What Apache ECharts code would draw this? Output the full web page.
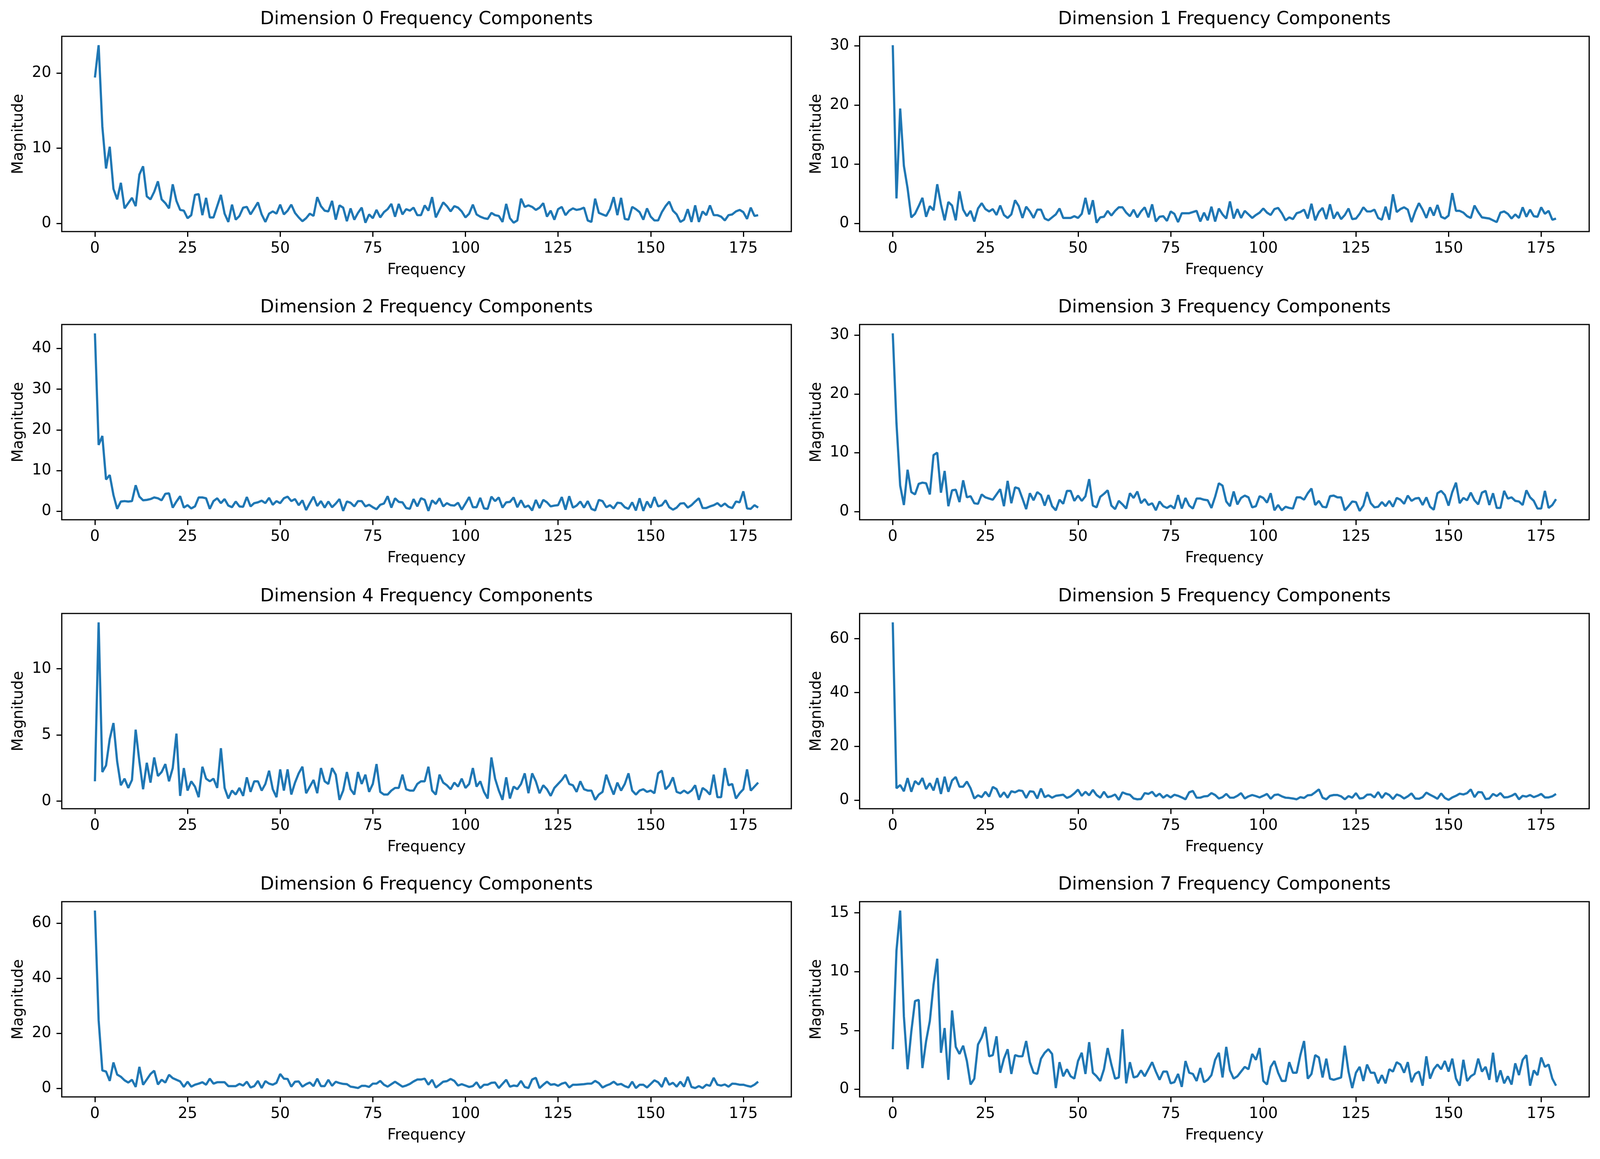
<!DOCTYPE html>
<html>
<head>
<meta charset="utf-8">
<script src="https://cdn.jsdelivr.net/npm/echarts@6/dist/echarts.min.js"></script>
<style>
html,body{margin:0;padding:0;background:#fff;overflow:hidden;}
#chart{position:absolute;left:0;top:0;}
</style>
</head>
<body>
<div id="chart"></div>
<script>
// ---------------- data ----------------
var frequencyTicks = [0, 25, 50, 75, 100, 125, 150, 175];
var titles = [
  "Dimension 0 Frequency Components", "Dimension 1 Frequency Components",
  "Dimension 2 Frequency Components", "Dimension 3 Frequency Components",
  "Dimension 4 Frequency Components", "Dimension 5 Frequency Components",
  "Dimension 6 Frequency Components", "Dimension 7 Frequency Components"
];
var yTicks0 = [0, 10, 20];
var yTicks1 = [0, 10, 20, 30];
var yTicks2 = [0, 10, 20, 30, 40];
var yTicks3 = [0, 10, 20, 30];
var yTicks4 = [0, 5, 10];
var yTicks5 = [0, 20, 40, 60];
var yTicks6 = [0, 20, 40, 60];
var yTicks7 = [0, 5, 10, 15];

var dim0 = [
19.4,23.7,12.9,7.3,10.2,4.6,3.2,5.4,2.0,2.7,3.4,2.3,6.5,7.6,3.6,3.2,4.2,5.6,3.2,2.7,
2.0,5.2,3.0,1.8,1.7,0.7,1.1,3.8,3.9,1.1,3.4,0.8,0.8,2.3,3.8,1.3,0.2,2.5,0.5,1.0,
2.1,2.2,1.2,2.0,2.8,1.2,0.2,1.3,1.6,1.3,2.5,1.2,1.7,2.5,1.4,0.8,0.3,0.7,1.3,1.0,
3.5,2.3,1.7,1.6,3.0,0.5,2.4,2.1,0.3,2.0,0.5,1.4,2.1,0.1,1.2,0.7,1.8,0.8,1.5,1.9,
2.6,0.9,2.6,1.2,1.9,1.7,2.1,1.1,1.1,2.4,1.7,3.5,0.8,1.8,2.8,2.3,1.6,2.3,2.1,1.6,
0.8,1.3,2.5,1.2,0.9,0.7,0.6,1.4,1.1,1.0,0.2,2.6,0.7,0.1,0.4,3.3,2.2,2.4,2.2,1.8,
2.1,2.7,0.9,1.7,0.5,1.9,2.2,1.1,1.7,2.0,1.8,1.9,2.1,0.4,0.2,3.3,1.4,1.2,1.0,1.9,
3.5,1.1,3.4,0.6,0.5,2.2,1.9,1.5,0.5,2.0,0.9,0.4,0.4,1.5,2.3,2.9,1.7,1.2,0.2,0.5,
1.9,0.2,2.4,0.2,1.6,1.1,2.4,1.1,1.1,0.9,0.4,1.1,1.2,1.6,1.8,1.5,0.6,2.1,1.0,1.1];
var dim1 = [
30.1,4.2,19.4,9.7,5.9,1.0,1.6,2.9,4.3,1.1,2.9,2.2,6.6,3.2,0.5,3.6,3.0,0.5,5.4,2.3,
1.2,2.1,0.3,2.5,3.4,2.4,2.0,2.4,1.4,3.0,1.4,0.9,1.5,3.9,2.9,0.9,2.8,2.0,0.9,2.3,
2.3,0.8,0.5,1.0,1.5,2.5,0.9,0.9,0.9,1.2,0.9,1.6,4.3,1.5,3.9,0.1,1.0,1.1,2.1,1.3,
2.1,2.7,2.7,1.8,1.2,2.3,1.0,2.0,2.7,1.0,3.2,0.3,1.1,1.2,0.4,2.0,1.6,0.2,1.7,1.7,
1.7,1.9,2.1,0.3,1.8,0.5,2.8,0.3,2.5,1.5,0.8,3.7,0.8,2.4,0.9,2.1,1.5,0.9,1.4,1.8,
2.5,1.8,1.4,2.4,2.6,1.7,0.5,1.0,0.7,1.7,1.9,2.3,0.8,3.3,0.5,1.9,2.6,0.7,3.2,0.8,
1.9,0.7,1.4,2.5,0.7,0.8,1.6,2.7,2.0,2.0,2.3,0.9,0.6,2.8,0.6,4.9,1.9,2.4,2.7,2.3,
0.2,2.0,3.4,2.3,0.9,2.7,1.3,3.1,1.1,0.8,1.3,5.1,2.1,2.1,1.8,1.2,0.9,3.0,1.9,1.0,
0.9,0.8,0.5,0.2,1.8,2.0,1.6,0.8,1.5,0.9,2.7,1.1,2.3,1.2,1.1,2.7,1.6,2.1,0.6,0.8];
var dim2 = [
43.7,16.3,18.5,7.8,8.9,4.0,0.6,2.4,2.5,2.4,2.5,6.4,3.6,2.7,2.8,3.0,3.4,3.2,2.7,4.3,
4.4,0.9,2.4,3.7,0.9,1.5,0.7,1.2,3.4,3.4,3.2,0.6,2.5,3.2,2.0,3.0,1.4,1.0,2.4,1.2,
1.1,3.5,1.2,2.0,2.2,2.6,2.0,3.3,1.6,2.5,2.0,3.2,3.6,2.5,3.0,1.5,2.7,0.3,2.0,3.6,
1.3,2.5,0.9,2.4,1.0,1.9,3.0,0.1,2.4,2.1,1.2,2.5,2.5,1.2,1.6,1.0,0.5,1.6,1.9,3.7,
0.9,3.2,2.3,2.2,0.8,0.6,3.0,1.2,3.2,2.8,0.1,2.7,1.8,3.2,1.2,2.0,1.5,1.4,2.1,0.4,
1.9,3.5,1.0,1.0,3.3,0.7,0.6,3.6,2.5,3.4,0.9,2.2,2.3,3.4,1.0,2.7,1.0,1.4,0.2,2.8,
0.8,2.8,2.2,1.2,1.4,1.5,3.5,0.4,3.7,0.9,1.4,2.4,0.9,2.5,0.6,0.2,2.8,2.5,1.0,1.5,
0.7,2.1,2.0,1.0,0.6,2.2,0.2,3.2,0.1,2.4,0.9,3.5,1.2,1.5,2.7,1.0,0.4,0.9,1.9,2.0,
0.9,1.5,2.4,3.2,0.8,0.8,1.2,1.5,2.0,1.2,1.9,1.1,0.8,2.4,2.2,4.9,0.7,0.6,1.5,0.9];
var dim3 = [
30.3,15.0,4.4,1.1,7.1,3.3,2.9,4.7,4.9,4.8,2.9,9.6,10.0,3.2,6.9,0.9,3.6,3.7,1.6,5.3,
2.4,2.6,1.4,1.3,2.9,2.4,2.2,2.0,2.9,3.8,0.9,5.2,1.4,4.1,3.9,2.2,0.4,3.1,1.9,3.3,
2.8,1.0,2.8,0.9,0.2,2.0,1.3,3.5,3.5,1.8,2.7,1.8,2.6,5.5,1.0,0.7,2.5,3.0,3.6,1.0,
0.4,1.8,1.2,0.5,3.1,2.3,3.4,1.4,2.1,1.1,1.4,0.2,1.7,0.9,0.6,1.0,0.5,2.8,0.5,2.3,
1.0,0.5,2.2,2.2,2.0,1.9,0.6,2.5,4.8,4.4,1.7,0.9,3.4,1.2,2.3,2.7,2.4,0.7,0.9,2.6,
2.3,1.5,3.1,0.2,1.1,0.2,0.8,0.6,0.5,2.4,2.4,2.0,3.1,3.9,1.1,1.8,0.8,0.7,2.6,2.7,
2.4,2.4,0.2,0.9,1.7,1.6,0.1,1.0,3.3,1.4,0.7,0.8,1.6,0.9,1.8,0.8,2.3,2.0,1.3,2.7,
1.8,2.2,2.3,1.1,2.4,0.8,0.3,3.1,3.5,2.8,1.0,3.3,4.9,1.4,2.3,1.9,3.2,1.9,1.2,3.2,
3.5,1.1,3.1,0.6,0.6,3.5,2.2,2.4,1.8,1.7,1.1,3.6,2.4,1.8,0.5,0.5,3.5,0.6,1.1,2.1];
var dim4 = [
1.5,13.5,2.2,2.7,4.7,5.9,3.0,1.2,1.7,1.0,1.6,5.4,3.0,0.9,2.9,1.4,3.3,1.9,2.2,2.8,
1.5,2.5,5.1,0.4,2.5,0.8,1.5,1.1,0.3,2.6,1.7,1.5,1.7,1.0,4.0,1.0,0.2,0.8,0.5,1.0,
0.4,1.8,0.7,1.5,1.5,0.8,1.3,2.3,0.9,0.3,2.4,0.8,2.4,0.5,1.4,2.1,2.6,0.6,1.1,1.6,
0.6,2.5,1.5,1.3,2.5,2.0,0.1,0.8,2.2,0.9,0.5,2.2,1.3,2.0,0.7,1.3,2.8,0.7,0.5,0.5,
0.8,1.0,1.0,2.0,0.9,0.8,0.8,1.3,1.5,1.5,2.6,0.8,0.5,2.0,1.4,1.2,0.9,1.4,1.1,1.7,
1.0,1.3,2.5,1.1,1.5,0.7,0.2,3.3,1.7,0.8,0.1,1.8,0.2,1.1,0.9,1.3,2.1,0.6,2.1,1.5,
0.6,1.2,0.9,0.4,1.0,1.3,1.6,2.0,1.3,1.2,0.7,1.5,0.9,0.8,0.8,0.1,0.5,0.7,2.0,1.2,
0.5,1.4,0.8,1.3,2.1,0.8,0.5,0.8,0.9,0.7,0.8,0.6,2.1,2.3,0.9,1.2,1.8,0.7,0.6,0.8,
0.6,0.8,1.2,0.1,1.0,0.8,0.5,2.0,0.3,0.3,2.5,1.2,1.3,0.2,0.6,0.9,2.4,0.8,1.1,1.4];
var dim5 = [
66.1,4.4,5.6,3.3,8.2,3.1,7.1,5.8,8.2,4.1,6.3,3.6,8.2,2.3,8.7,3.1,7.3,8.6,5.0,5.0,
6.9,4.4,0.6,1.8,1.1,3.1,1.3,4.9,4.1,1.1,2.9,0.9,3.3,2.9,3.6,3.4,0.8,3.3,3.1,0.6,
4.3,1.1,1.8,0.9,1.6,1.8,2.0,0.8,1.4,2.5,3.9,1.6,3.1,1.8,3.8,1.9,0.9,3.1,1.1,1.4,
2.1,0.1,2.9,2.3,2.0,0.6,0.3,0.4,2.6,2.3,3.1,1.4,2.4,0.9,1.9,1.0,2.0,1.6,1.0,0.3,
2.9,3.4,0.9,0.9,1.4,1.5,2.6,1.9,0.6,1.1,2.3,0.9,0.9,1.6,2.6,0.6,1.4,1.9,1.5,1.0,
1.6,2.3,0.5,1.9,2.1,1.4,0.9,0.8,0.6,0.3,1.1,0.8,1.8,1.9,2.9,4.0,0.9,0.3,1.6,1.9,
1.9,1.4,0.3,1.5,0.9,2.6,0.6,0.8,2.0,2.1,1.0,3.0,0.8,2.6,1.9,0.4,2.1,1.6,0.6,1.4,
2.5,0.6,0.5,1.1,2.8,2.0,1.3,0.5,2.5,0.8,0.1,1.0,1.6,2.4,2.1,2.6,4.0,1.1,3.0,2.9,
0.4,0.6,2.3,1.5,2.6,1.0,1.1,1.6,2.4,0.3,1.6,1.3,1.9,1.1,1.6,2.3,1.0,1.0,1.4,2.3];
var dim6 = [
64.6,24.8,6.5,6.1,2.7,9.4,5.0,4.2,2.9,2.1,3.1,0.5,7.8,1.3,3.2,5.2,6.4,1.4,3.1,2.1,
4.9,3.7,3.1,2.5,0.5,2.4,0.6,1.3,1.7,2.2,1.3,3.5,1.7,2.2,2.2,2.2,0.8,0.8,0.8,1.6,
1.0,2.4,0.3,0.8,2.7,0.1,2.6,1.7,1.3,2.0,5.2,3.5,3.4,0.6,2.4,2.5,0.6,1.5,2.1,0.8,
3.5,0.8,0.8,3.1,0.9,2.4,1.9,1.6,1.5,0.6,0.4,0.1,0.9,0.9,0.5,1.7,1.7,2.7,1.3,0.6,
1.5,2.4,1.5,0.6,1.0,1.6,2.5,3.2,3.2,3.5,1.3,3.1,0.3,1.3,2.4,2.6,3.4,2.7,1.0,1.5,
1.0,0.5,0.8,2.2,0.1,1.3,1.3,2.0,2.1,0.1,1.6,3.1,0.6,1.0,0.8,2.7,0.5,0.1,3.2,3.8,
0.1,1.3,2.4,1.3,1.5,0.9,1.7,2.1,0.3,1.3,1.3,1.4,1.5,1.7,1.7,2.7,1.9,0.3,1.0,1.5,
2.4,1.3,1.6,0.8,0.3,2.4,0.1,1.3,1.3,0.3,1.6,2.9,2.2,0.5,3.9,1.3,2.0,0.6,2.4,0.6,
4.2,0.5,0.1,0.8,0.1,1.3,0.9,3.8,1.3,1.0,1.4,0.6,1.7,1.6,1.3,1.3,0.9,0.6,1.3,2.4];
var dim7 = [
3.4,11.8,15.2,6.2,1.7,4.9,7.5,7.6,1.8,4.1,5.8,8.9,11.1,3.1,5.2,0.8,6.7,3.6,3.0,3.7,
2.4,0.4,0.9,3.8,4.4,5.3,2.8,2.9,4.5,1.4,2.6,3.4,1.3,2.9,2.8,2.8,4.1,2.3,1.4,1.3,
2.6,3.1,3.4,3.0,0.1,2.3,1.1,1.7,1.1,0.9,2.4,3.1,1.3,4.0,1.4,1.1,0.7,1.7,3.5,2.1,
0.9,1.0,5.1,0.5,2.3,1.0,1.1,1.6,1.1,1.7,2.3,1.5,0.8,1.5,1.5,0.5,0.6,1.3,0.2,2.4,
1.4,1.3,0.7,1.8,0.6,0.8,1.2,2.5,3.1,1.0,3.6,1.6,0.9,1.1,1.5,1.9,1.7,3.0,2.5,3.5,
0.7,0.4,1.9,2.4,1.4,0.7,0.7,2.3,1.4,1.4,2.9,4.1,0.9,1.3,2.9,2.7,1.0,2.6,0.9,0.8,
0.9,1.0,3.7,1.5,0.1,1.4,1.9,0.7,2.1,1.4,1.4,0.5,1.2,0.5,1.7,1.5,2.3,2.1,1.4,2.3,
0.6,1.3,1.5,0.3,2.8,0.9,1.7,2.1,1.7,2.4,1.5,2.6,0.9,0.3,2.5,0.7,1.1,1.3,2.6,1.5,
1.9,0.8,3.1,0.6,1.6,0.5,1.1,0.4,2.2,1.2,2.5,2.9,0.3,1.6,1.2,2.7,1.9,2.1,0.9,0.3];

var dims = [dim0, dim1, dim2, dim3, dim4, dim5, dim6, dim7];
var yTicks = [yTicks0, yTicks1, yTicks2, yTicks3, yTicks4, yTicks5, yTicks6, yTicks7];

// ---------------- layout (reference is 4430 x 2968) ----------------
var REF_W = 4430, REF_H = 2968;
var VW = Math.round(window.innerWidth) || REF_W, VH = Math.round(window.innerHeight) || REF_H;
if (VW < 500 || VH < 400) { VW = REF_W; VH = REF_H; }
var sx = VW / REF_W, sy = VH / REF_H, s = Math.round(Math.min(sx, sy) * 1000) / 1000;
var colLeft = [171, 2380];
var gridW = 2020;
var rowTop = [93, 831, 1571, 2309];
var gridH = 500;
var FONT = "DejaVu Sans";
var LINE_BLUE = "#1f77b4";
function r1(v) { return Math.round(v * 10) / 10; }

function build(f) {
  var grids = [], xAxes = [], yAxes = [], series = [], graphics = [];
  for (var i = 0; i < 8; i++) {
    var col = i % 2, row = Math.floor(i / 2);
    var left = r1(colLeft[col] * sx), top = r1(rowTop[row] * sy);
    grids.push({
      left: left, top: top, width: r1(gridW * sx), height: r1(gridH * sy),
      show: true, borderColor: "#000", borderWidth: r1(3.3 * s)
    });
    var d = dims[i];
    var xr = d.length - 1;
    var ymin = Math.min.apply(null, d), ymax = Math.max.apply(null, d), yr = ymax - ymin;
    var xa = {
      gridIndex: i, type: "value", min: -0.05 * xr, max: xr + 0.05 * xr,
      axisLine: { show: false },
      splitLine: { show: false },
      axisTick: { show: true, length: r1(14.6 * s), lineStyle: { color: "#000", width: r1(3.3 * s) } },
      axisLabel: { show: true, margin: r1(26 * s), fontSize: r1(42 * s), color: "#000", fontFamily: FONT },
      name: "Frequency", nameLocation: "middle", nameGap: r1(86 * s),
      nameTextStyle: { fontSize: r1(42 * s), color: "#000", fontFamily: FONT }
    };
    var ya = {
      gridIndex: i, type: "value", min: ymin - 0.05 * yr, max: ymax + 0.05 * yr,
      axisLine: { show: false },
      splitLine: { show: false },
      axisTick: { show: true, length: r1(14.6 * s), lineStyle: { color: "#000", width: r1(3.3 * s) } },
      axisLabel: { show: true, margin: r1(29 * s), fontSize: r1(42 * s), color: "#000", fontFamily: FONT },
      name: "Magnitude", nameLocation: "middle", nameGap: r1(98 * s), nameRotate: 90,
      nameTextStyle: { fontSize: r1(42 * s), color: "#000", fontFamily: FONT }
    };
    if (f.onzero) { xa.axisLine.onZero = false; ya.axisLine.onZero = false; }
    if (f.custom) {
      xa.axisTick.customValues = frequencyTicks; xa.axisLabel.customValues = frequencyTicks;
      ya.axisTick.customValues = yTicks[i]; ya.axisLabel.customValues = yTicks[i];
    }
    xAxes.push(xa); yAxes.push(ya);
    series.push({
      type: "line", xAxisIndex: i, yAxisIndex: i,
      data: d.map(function (v, k) { return [k, v]; }),
      showSymbol: false,
      lineStyle: { color: LINE_BLUE, width: r1(6.2 * s) },
      itemStyle: { color: LINE_BLUE }
    });
    graphics.push({
      type: "text", x: r1(left + gridW * sx / 2), y: r1(top - 43 * sy),
      style: { text: titles[i], fill: "#000", font: r1(50 * s) + "px '" + FONT + "'", align: "center", verticalAlign: "middle" }
    });
  }
  var o = { backgroundColor: "#fff", animation: false, grid: grids, xAxis: xAxes, yAxis: yAxes, series: series };
  if (f.graphic) o.graphic = graphics;
  return o;
}

var el = document.getElementById("chart");
el.style.width = VW + "px";
el.style.height = VH + "px";
var variants = [
  { onzero: 1, custom: 1, graphic: 1 },
  { custom: 1, graphic: 1 },
  { onzero: 1, custom: 1 },
  { onzero: 1, graphic: 1 },
  {}
];
var chart = null;
for (var v = 0; v < variants.length; v++) {
  try {
    if (chart) { chart.dispose(); }
    chart = echarts.init(el, null, { renderer: "canvas", width: VW, height: VH });
    chart.setOption(build(variants[v]));
    chart.getZr().refreshImmediately();
    break;
  } catch (e) {
    /* try next simpler variant */
  }
}
</script>
</body>
</html>
